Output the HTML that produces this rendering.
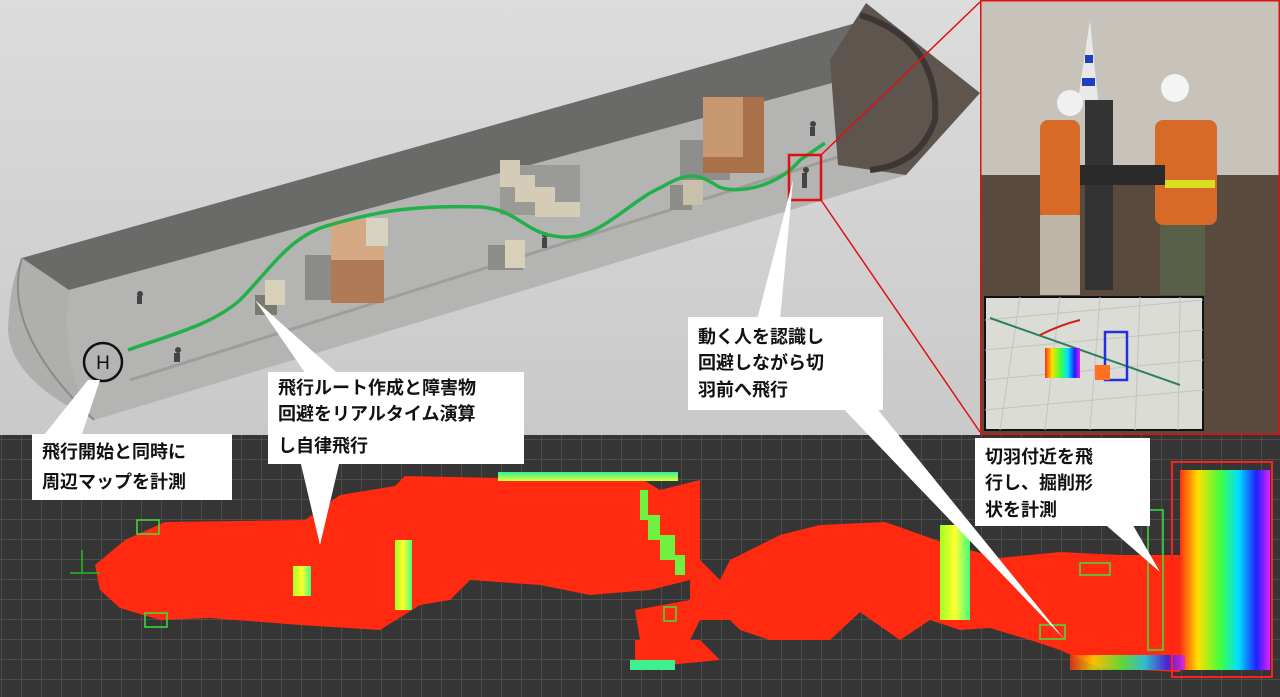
<!DOCTYPE html>
<html><head><meta charset="utf-8"><style>
html,body{margin:0;padding:0;width:1280px;height:697px;overflow:hidden;background:#333}
.t{font-family:"Liberation Sans","Noto Sans CJK JP",sans-serif;font-weight:bold;font-size:18px;fill:#111}
</style></head><body>
<svg width="1280" height="697" viewBox="0 0 1280 697" xmlns="http://www.w3.org/2000/svg">
<defs>
<linearGradient id="bg" x1="0" y1="0" x2="0" y2="1"><stop offset="0" stop-color="#dcdcdc"/><stop offset="1" stop-color="#c9c9c9"/></linearGradient>
<pattern id="grid" width="20" height="20" patternUnits="userSpaceOnUse" x="2" y="440"><rect width="20" height="20" fill="#353535"/><path d="M20 0V20M0 20H20" stroke="#5a5a5a" stroke-width="1.2"/></pattern>
<linearGradient id="rb" x1="0" y1="0" x2="1" y2="0"><stop offset="0" stop-color="#ff3010"/><stop offset=".2" stop-color="#ffe000"/><stop offset=".45" stop-color="#40ff40"/><stop offset=".65" stop-color="#00e0ff"/><stop offset=".85" stop-color="#2020ff"/><stop offset="1" stop-color="#e020ff"/></linearGradient>
<linearGradient id="gy" x1="0" y1="0" x2="1" y2="0"><stop offset="0" stop-color="#a0ff20"/><stop offset=".5" stop-color="#ffff30"/><stop offset="1" stop-color="#40ff80"/></linearGradient>
<linearGradient id="gt" x1="0" y1="0" x2="0" y2="1"><stop offset="0" stop-color="#30f0a0"/><stop offset="1" stop-color="#e0ff30"/></linearGradient>
</defs>
<!-- top scene -->
<rect x="0" y="0" width="980" height="435" fill="url(#bg)"/>
<!-- tunnel body -->
<path d="M22 258 L856 23 L906 63 L906 175 L94 420 Q10 380 8 330 Q10 280 22 258Z" fill="#a9a9a7" opacity=".85"/>
<path d="M22 258 L856 23 L906 63 L69 290Z" fill="#6a6a68"/>
<path d="M69 290 L906 63 L906 175 L94 420 Q60 370 69 290Z" fill="#b4b4b2"/>
<path d="M130 380 L860 150" stroke="#8e8e8c" stroke-width="3" opacity=".6"/>
<path d="M22 258 Q0 330 94 420" fill="none" stroke="#8a8a88" stroke-width="2"/>
<path d="M866 3 L980 93 L906 175 L838 165 L830 60Z" fill="#5e554f"/>
<path d="M860 15 Q940 40 935 120 Q920 165 870 170" fill="none" stroke="#3e3632" stroke-width="6"/>
<!-- boxes -->
<rect x="305" y="255" width="55" height="45" fill="#8b8b89"/>
<rect x="331" y="220" width="53" height="83" fill="#b07a56"/>
<rect x="331" y="220" width="53" height="40" fill="#d4a882"/>
<rect x="366" y="218" width="22" height="28" fill="#d8d2c0"/>
<rect x="255" y="295" width="22" height="20" fill="#7a7a70"/>
<rect x="265" y="280" width="20" height="25" fill="#d8d0b8"/>
<rect x="680" y="140" width="50" height="40" fill="#8e8e8c"/>
<rect x="703" y="97" width="61" height="76" fill="#a9704a"/>
<rect x="703" y="97" width="40" height="60" fill="#c89870"/>
<rect x="500" y="165" width="80" height="50" fill="#9a9a96"/>
<path d="M500 160 h20 v15 h15 v12 h20 v15 h25 v15 h-45 v-15 h-20 v-15 h-15Z" fill="#d4ccb6"/>
<rect x="488" y="245" width="35" height="25" fill="#8c8c88"/>
<rect x="505" y="240" width="20" height="28" fill="#d8d0b8"/>
<rect x="670" y="185" width="22" height="25" fill="#8e8e88"/>
<rect x="683" y="180" width="20" height="25" fill="#c8c0a8"/>
<!-- people -->
<g fill="#444"><circle cx="140" cy="294" r="3"/><rect x="137" y="296" width="5" height="8"/><circle cx="178" cy="350" r="3"/><rect x="174" y="353" width="6" height="9"/><circle cx="545" cy="235" r="3"/><rect x="542" y="238" width="5" height="10"/><circle cx="813" cy="124" r="3"/><rect x="810" y="127" width="5" height="9"/><circle cx="806" cy="170" r="3"/><rect x="802" y="173" width="5" height="15"/></g>
<!-- green path -->
<path d="M128 350 C170 335 212 325 240 300 C270 270 290 235 330 225 C380 210 420 205 481 207 C520 210 525 235 562 237 C600 240 630 200 662 187 C690 170 700 175 719 187 C740 195 780 185 800 160 L825 143" fill="none" stroke="#22b04a" stroke-width="3.5"/>
<circle cx="103" cy="362" r="19" fill="none" stroke="#111" stroke-width="2.5"/>
<text x="103" y="369" font-family="Liberation Sans,sans-serif" font-size="19" text-anchor="middle" fill="#111">H</text>
<!-- red zoom box and lines -->
<rect x="789" y="155" width="32" height="45" fill="none" stroke="#e01010" stroke-width="2.5"/>
<line x1="821" y1="155" x2="980" y2="2" stroke="#e01010" stroke-width="1.5"/>
<line x1="821" y1="200" x2="980" y2="432" stroke="#e01010" stroke-width="1.5"/>
<!-- photo panel -->
<rect x="980" y="0" width="300" height="435" fill="#b2aea6"/>
<rect x="980" y="0" width="300" height="175" fill="#c7c3bb"/>
<rect x="980" y="175" width="300" height="260" fill="#5a4a3e"/>
<rect x="1085" y="100" width="28" height="190" fill="#333"/>
<path d="M1078 100 L1090 20 L1098 100Z" fill="#e8e8e8"/><path d="M1082 78 h13 v8 h-13Z M1085 55 h8 v8 h-8Z" fill="#2040c0"/>
<rect x="1040" y="120" width="40" height="100" rx="8" fill="#d86a28"/>
<rect x="1040" y="215" width="40" height="80" fill="#c0b6a8"/>
<circle cx="1070" cy="103" r="13" fill="#f0f0f0"/>
<rect x="1155" y="120" width="62" height="105" rx="8" fill="#d86a28"/>
<rect x="1160" y="225" width="45" height="70" fill="#586048"/>
<circle cx="1175" cy="88" r="14" fill="#f4f4f4"/>
<rect x="1080" y="165" width="85" height="20" fill="#2a2a2a"/>
<rect x="1165" y="180" width="50" height="8" fill="#d8e020"/>
<rect x="985" y="297" width="218" height="133" fill="#dcdcd6" stroke="#111" stroke-width="2"/>
<path d="M985 320 L1203 300 M985 350 L1203 330 M985 380 L1203 360 M985 410 L1203 390 M1020 297 L1000 430 M1060 297 L1045 430 M1100 297 L1090 430 M1140 297 L1135 430 M1180 297 L1178 430" stroke="#c4c4be" stroke-width="1"/>
<path d="M990 318 L1180 385" stroke="#2a8060" stroke-width="2"/>
<path d="M1040 335 Q1060 325 1080 320" stroke="#d02020" stroke-width="2" fill="none"/>
<rect x="1045" y="348" width="35" height="30" fill="url(#rb)"/>
<rect x="1105" y="332" width="22" height="48" fill="none" stroke="#2030e0" stroke-width="2.5"/>
<rect x="1095" y="365" width="15" height="15" fill="#ff7020"/>
<rect x="980.75" y="0.75" width="298.5" height="433.5" fill="none" stroke="#e01010" stroke-width="1.5"/>
<!-- bottom grid -->
<rect x="0" y="435" width="1280" height="262" fill="url(#grid)"/>
<!-- point cloud red -->
<g fill="#ff2a10">
<path d="M95 565 L125 540 L165 522 L305 520 L340 495 L395 486 L405 476 L500 478 L560 478 L640 478 L660 490 L700 480 L700 560 L720 580 L730 560 L780 535 L820 525 L885 522 L950 545 L1000 558 L1060 552 L1120 555 L1180 555 L1180 672 L1100 668 L1060 650 L1030 640 L990 628 L960 630 L930 620 L900 640 L860 612 L830 640 L770 640 L740 630 L730 620 L700 620 L690 640 L640 640 L635 610 L690 600 L690 580 L650 590 L590 595 L540 585 L470 580 L450 600 L420 605 L380 630 L300 625 L210 618 L160 620 L120 608 L100 590Z"/>
<path d="M635 640 L700 640 L720 660 L635 668Z"/>
</g>
<!-- colored walls -->
<rect x="498" y="472" width="180" height="9" fill="url(#gt)"/>
<path d="M640 490 h8 v25 h12 v20 h15 v20 h10 v20 h-10 v-15 h-15 v-20 h-12 v-20 h-8Z" fill="#70f040"/>
<rect x="395" y="540" width="17" height="70" fill="url(#gy)"/>
<rect x="293" y="566" width="18" height="30" fill="url(#gy)"/>
<rect x="940" y="525" width="30" height="95" fill="url(#gy)"/>
<rect x="630" y="660" width="45" height="10" fill="#40f090"/>
<rect x="1180" y="470" width="90" height="200" fill="url(#rb)"/>
<rect x="1070" y="655" width="115" height="15" fill="url(#rb)" opacity=".8"/>
<rect x="1172" y="462" width="100" height="215" fill="none" stroke="#ff2020" stroke-width="2"/>
<!-- green frames -->
<g fill="none" stroke="#40e040" stroke-width="1.5"><rect x="137" y="520" width="22" height="14"/><rect x="145" y="613" width="22" height="14"/><rect x="664" y="607" width="12" height="14"/><rect x="1040" y="625" width="25" height="14"/><rect x="1080" y="563" width="30" height="12"/><rect x="1148" y="510" width="15" height="140"/></g>
<path d="M82 550 V573 M70 573 H100" stroke="#20c020" stroke-width="1.5"/>
<!-- callouts -->
<g fill="#fff">
<path d="M88 380 L100 380 L80 440 L40 440Z"/>
<path d="M255 300 L310 380 L345 380Z"/>
<path d="M300 460 L320 545 L340 460Z"/>
<path d="M793 180 L780 320 L757 320Z"/>
<path d="M870 400 L1065 640 L835 400Z"/>
<path d="M1100 520 L1160 572 L1130 520Z"/>
<rect x="32" y="434" width="200" height="66"/>
<rect x="268" y="372" width="256" height="92"/>
<rect x="688" y="317" width="195" height="93"/>
<rect x="975" y="438" width="175" height="88"/>
</g>
<text class="t"><tspan x="42" y="458">飛行開始と同時に</tspan><tspan x="42" y="488">周辺マップを計測</tspan></text>
<text class="t"><tspan x="278" y="394">飛行ルート作成と障害物</tspan><tspan x="278" y="420">回避をリアルタイム演算</tspan><tspan x="278" y="452">し自律飛行</tspan></text>
<text class="t"><tspan x="698" y="343">動く人を認識し</tspan><tspan x="698" y="369">回避しながら切</tspan><tspan x="698" y="396">羽前へ飛行</tspan></text>
<text class="t"><tspan x="985" y="463">切羽付近を飛</tspan><tspan x="985" y="489">行し、掘削形</tspan><tspan x="985" y="516">状を計測</tspan></text>
</svg>
</body></html>
